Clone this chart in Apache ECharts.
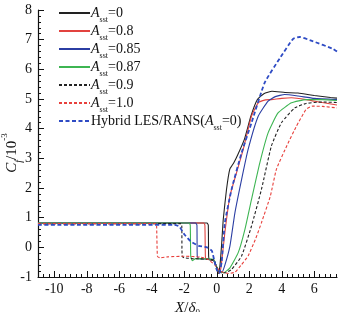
<!DOCTYPE html>
<html>
<head>
<meta charset="utf-8">
<script src="https://cdn.jsdelivr.net/npm/echarts@6/dist/echarts.min.js"></script>
<style>
  html, body { margin: 0; padding: 0; background: #fff; }
  #Cf { width: 345px; height: 312px; }
</style>
</head>
<body>
<div id="Cf"></div>
<script>
// axis ranges and tick labels
const xMin = -11
const xMax = 7.4
const xMajorTicks = [-10, -8, -6, -4, -2, 0, 2, 4, 6]
const yTicks = [-1, 0, 1, 2, 3, 4, 5, 6, 7, 8]

// A_sst values in the legend
const asstLabels = ['0', '0.8', '0.85', '0.87', '0.9', '1.0']

// Cf/10^-3 along X/delta0
const cfA0 = [[-11, 0.82], [-0.6, 0.82], [-0.52, 0.75], [-0.5, -0.3], [-0.45, -0.42], [-0.2, -0.45], [-0.05, -0.6], [0.05, -0.82], [0.12, -0.88], [0.2, -0.6], [0.3, 0.1], [0.4, 0.94], [0.6, 1.95], [0.8, 2.63], [1.05, 2.85], [1.3, 3.13], [1.7, 3.64], [2.1, 4.42], [2.5, 4.98], [2.9, 5.18], [3.4, 5.26], [4.2, 5.22], [5, 5.2], [6, 5.12], [7, 5.05], [7.4, 5.03]]
const cfA08 = [[-11, 0.82], [-0.8, 0.82], [-0.73, 0.75], [-0.7, -0.3], [-0.65, -0.4], [-0.2, -0.42], [-0.05, -0.6], [0.1, -0.82], [0.2, -0.86], [0.3, -0.5], [0.5, 0.5], [0.81, 1.73], [1.22, 2.52], [1.63, 3.3], [2.14, 4.42], [2.55, 4.87], [3.0, 4.97], [3.36, 4.98], [4.0, 5.02], [4.6, 5.04], [5.5, 4.98], [6.5, 4.88], [7.4, 4.8]]
const cfA085 = [[-11, 0.82], [-1.3, 0.82], [-1.22, 0.75], [-1.2, -0.3], [-1.1, -0.38], [-0.2, -0.42], [-0.05, -0.6], [0.1, -0.8], [0.3, -0.86], [0.5, -0.6], [0.81, 0.04], [1.12, 1.17], [1.53, 2.29], [1.93, 3.3], [2.55, 4.42], [3.16, 4.93], [3.6, 5.08], [4.18, 5.15], [5.0, 5.1], [6, 5.02], [7.4, 4.98]]
const cfA087 = [[-11, 0.82], [-1.7, 0.82], [-1.63, 0.75], [-1.6, -0.3], [-1.5, -0.45], [-1.3, -0.38], [-0.2, -0.4], [-0.05, -0.6], [0.1, -0.78], [0.4, -0.86], [0.8, -0.7], [1.32, -0.18], [1.73, 0.6], [2.14, 1.62], [2.65, 2.85], [3.16, 3.86], [3.77, 4.53], [4.6, 4.87], [5.5, 4.98], [6.5, 4.98], [7.4, 4.95]]
const cfA09 = [[-11, 0.8], [-2.2, 0.8], [-2.15, 0.7], [-2.13, -0.3], [-2.0, -0.35], [-1.5, -0.38], [-0.2, -0.42], [-0.05, -0.6], [0.1, -0.78], [0.5, -0.86], [0.9, -0.75], [1.53, -0.29], [2.14, 0.72], [2.75, 1.95], [3.36, 3.41], [3.98, 4.2], [4.8, 4.7], [5.5, 4.85], [6.5, 4.9], [7.4, 4.88]]
const cfA10 = [[-11, 0.8], [-3.75, 0.8], [-3.7, 0.7], [-3.65, -0.3], [-3.5, -0.35], [-3, -0.32], [-2, -0.3], [-1, -0.33], [-0.5, -0.42], [-0.1, -0.6], [0.2, -0.8], [0.7, -0.88], [1.12, -0.84], [1.5, -0.6], [1.93, -0.29], [2.4, 0.3], [2.75, 0.83], [3.3, 1.73], [3.67, 2.63], [4.3, 3.41], [4.9, 4.08], [5.5, 4.65], [5.9, 4.76], [6.5, 4.75], [7.4, 4.7]]
const cfHybrid = [[-11, 0.76], [-2.6, 0.76], [-2.3, 0.7], [-2.0, 0.44], [-1.6, 0.2], [-1.1, 0.05], [-0.6, 0.0], [-0.3, -0.12], [-0.15, -0.45], [0.0, -0.75], [0.15, -0.88], [0.3, -0.5], [0.5, 0.83], [0.91, 1.95], [1.53, 3.19], [2.14, 4.2], [2.95, 5.55], [3.9, 6.39], [4.7, 7.03], [5.1, 7.09], [5.9, 6.95], [7.15, 6.69], [7.4, 6.6]]

const serif = 'Liberation Serif'

// minor ticks on x every 1/3
const xMinorTicks = []
for (let k = 0; -11 + k / 3 <= xMax + 1e-9; k++) {
  xMinorTicks.push(+(-11 + k / 3).toFixed(4))
}

const chart = echarts.init(document.getElementById('Cf'))

const lineSeries = (name, data, color, type, width) => ({
  name,
  type: 'line',
  data,
  showSymbol: false,
  symbol: 'none',
  smooth: 0.15,
  animation: false,
  lineStyle: { color, type, width },
  itemStyle: { color },
  xAxisIndex: 0,
  yAxisIndex: 0
})

const subRich = {
  a: { fontFamily: serif, fontStyle: 'italic', fontSize: 14, color: '#111', lineHeight: 14 },
  s: { fontFamily: serif, fontSize: 8, color: '#111', verticalAlign: 'bottom', lineHeight: 14, padding: [0, 0, -4, 0] },
  t: { fontFamily: serif, fontSize: 14, color: '#111', lineHeight: 14 }
}

const names = asstLabels.map(v => 'A' + v)
names.push('hybrid')

const option = {
  backgroundColor: '#fff',
  animation: false,
  grid: [
    { left: 38, right: 8, top: 10, bottom: 35, outerBoundsMode: 'none', containLabel: false },
    { left: 38, right: 8, top: 10, bottom: 35, outerBoundsMode: 'none', containLabel: false }
  ],
  legend: {
    orient: 'vertical',
    left: 53,
    top: 1,
    itemWidth: 31,
    itemHeight: 10,
    itemGap: 0,
    data: names,
    itemStyle: { opacity: 0, borderWidth: 0 },
    formatter: (n) => {
      if (n === 'hybrid') return '{t|Hybrid LES/RANS(}{a|A}{s|sst}{t|=0)}'
      return '{a|A}{s|sst}{t|=' + n.slice(1) + '}'
    },
    textStyle: { fontFamily: serif, fontSize: 14, color: '#111', rich: subRich, padding: [0, 0, 0, -4] }
  },
  xAxis: [
    {
      type: 'value',
      gridIndex: 0,
      min: xMin,
      max: xMax,
      name: '{x|X}{t|/}{x|δ}{s|0}',
      nameLocation: 'middle',
      nameGap: 12,
      nameTextStyle: {
        rich: {
          x: { fontFamily: serif, fontStyle: 'italic', fontSize: 15, color: '#111', lineHeight: 18 },
          t: { fontFamily: serif, fontSize: 15, color: '#111', lineHeight: 18 },
          s: { fontFamily: serif, fontSize: 9, color: '#111', verticalAlign: 'bottom', lineHeight: 18 }
        }
      },
      axisLine: { onZero: false, lineStyle: { color: '#111', width: 1.2 } },
      axisTick: { inside: true, length: 6, customValues: xMajorTicks, lineStyle: { color: '#111' } },
      axisLabel: { customValues: xMajorTicks, fontFamily: serif, fontSize: 14, color: '#111', margin: 5 },
      splitLine: { show: false }
    },
    {
      type: 'value',
      gridIndex: 1,
      min: xMin,
      max: xMax,
      axisLine: { show: false, onZero: false },
      axisTick: { inside: true, length: 3, customValues: xMinorTicks, lineStyle: { color: '#111' } },
      axisLabel: { show: false },
      splitLine: { show: false }
    }
  ],
  yAxis: [
    {
      type: 'value',
      gridIndex: 0,
      min: -1,
      max: 8,
      interval: 1,
      axisLine: { show: true, onZero: false, lineStyle: { color: '#111', width: 1.2 } },
      axisTick: { inside: true, length: 6, lineStyle: { color: '#111' } },
      minorTick: { show: true, splitNumber: 5, length: 3, lineStyle: { color: '#111' } },
      axisLabel: {
        fontFamily: serif, fontSize: 14, color: '#111', margin: 6,
        formatter: (v) => (yTicks.includes(v) ? String(v) : '')
      },
      splitLine: { show: false }
    },
    {
      type: 'value',
      gridIndex: 1,
      min: -1,
      max: 8,
      show: false,
      axisLine: { onZero: false }
    }
  ],
  graphic: [
    {
      type: 'text',
      x: 12,
      y: 153,
      rotation: Math.PI / 2,
      style: {
        text: '{c|C}{f|f}{t|/10}{p|-3}',
        align: 'center',
        verticalAlign: 'middle',
        rich: {
          c: { fontFamily: serif, fontStyle: 'italic', fontSize: 15, fill: '#111', lineHeight: 16 },
          f: { fontFamily: serif, fontStyle: 'italic', fontSize: 10, fill: '#111', verticalAlign: 'bottom', lineHeight: 16, padding: [0, 0, -4, 0] },
          t: { fontFamily: serif, fontSize: 15, fill: '#111', lineHeight: 16 },
          p: { fontFamily: serif, fontSize: 9, fill: '#111', verticalAlign: 'top', lineHeight: 16, padding: [-4, 0, 0, 0] }
        }
      }
    }
  ],
  series: [
    lineSeries('A0', cfA0, '#222222', 'solid', 1.1),
    lineSeries('A0.8', cfA08, '#e2433f', 'solid', 1.1),
    lineSeries('A0.85', cfA085, '#2b3ea3', 'solid', 1.1),
    lineSeries('A0.87', cfA087, '#3db552', 'solid', 1.1),
    lineSeries('A0.9', cfA09, '#222222', [3, 2], 1.1),
    lineSeries('A1.0', cfA10, '#e8403c', [3, 2], 1.1),
    lineSeries('hybrid', cfHybrid, '#2e4bc4', [4, 2.5], 1.8)
  ]
}

chart.setOption(option)
</script>
</body>
</html>
